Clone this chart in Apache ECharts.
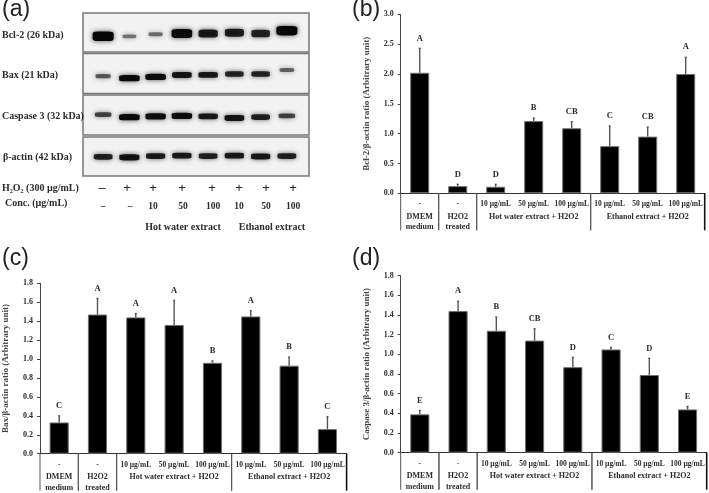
<!DOCTYPE html>
<html><head><meta charset="utf-8">
<script src="https://cdn.jsdelivr.net/npm/echarts@6/dist/echarts.min.js"></script>
<style>html,body{margin:0;background:#fff}#c{width:709px;height:493px;filter:blur(.55px)}</style>
</head><body><div id="c"></div>
<script>
// ---- bar chart data ----
const doseLabels = ['-','-','10 µg/mL','50 µg/mL','100 µg/mL','10 µg/mL','50 µg/mL','100 µg/mL'];
const groupNames = ['DMEM\nmedium','H2O2\ntreated','Hot water extract + H2O2','Ethanol extract + H2O2'];
const groupSpans = [[0,0],[1,1],[2,4],[5,7]];

const bcl2Values = [2.02,0.12,0.11,1.21,1.09,0.79,0.95,2.00];
const bcl2Upper  = [2.43,0.15,0.15,1.26,1.20,1.13,1.11,2.28];
const bcl2Letters = ['A','D','D','B','CB','C','CB','A'];

const baxValues = [0.33,1.47,1.44,1.36,0.96,1.45,0.93,0.26];
const baxUpper  = [0.40,1.64,1.48,1.62,0.98,1.51,1.02,0.39];
const baxLetters = ['C','A','A','A','B','A','B','C'];

const caspValues = [0.39,1.44,1.24,1.14,0.87,1.05,0.79,0.44];
const caspUpper  = [0.43,1.54,1.38,1.26,0.97,1.07,0.96,0.47];
const caspLetters = ['E','A','B','CB','D','C','D','E'];

// ---- western blot data: band intensity and migration drift per lane ----
const laneNames = ['L1','L2','L3','L4','L5','L6','L7','L8'];
const blotRows = ['Bcl-2 (26 kDa)','Bax (21 kDa)','Caspase 3 (32 kDa)','β-actin (42 kDa)'];
const bcl2Band = [1,0.18,0.22,0.95,0.8,0.78,0.72,1];
const baxBand  = [0.35,0.95,0.95,0.85,0.82,0.72,0.72,0.28];
const caspBand = [0.5,0.95,0.92,0.92,0.82,0.85,0.75,0.5];
const actinBand= [0.75,0.9,0.8,0.8,0.75,0.8,0.8,0.75];
const bcl2Drift = [0.07,0.07,0.02,0,0,-0.02,0,-0.07];
const baxDrift  = [0.04,0.09,0.06,0.01,0.01,-0.01,-0.01,-0.11];
const caspDrift = [-0.02,0.04,0.02,0.01,0.02,0.06,0.04,0.01];
const actinDrift= [0.01,0.02,-0.01,-0.02,-0.01,-0.02,0,-0.01];

const serif = '"Liberation Serif","DejaVu Serif",serif';
const sans = '"Liberation Sans",Arial,sans-serif';
const ink = '#2b2b2b';

const grids = [], xAxes = [], yAxes = [], series = [];

// blot grid
grids.push({left:90, top:13, width:210, height:164});
xAxes.push({gridIndex:0, type:'category', data:laneNames, show:false});
yAxes.push({gridIndex:0, type:'value', min:0, max:4, inverse:true, show:false});
[bcl2Band,baxBand,caspBand,actinBand].forEach((band,r)=>{
  const drift=[bcl2Drift,baxDrift,caspDrift,actinDrift][r];
  series.push({
    type:'scatter', name:blotRows[r], xAxisIndex:0, yAxisIndex:0, silent:true, z:3,
    symbol:'roundRect',
    symbolSize:(v,p)=>{const s=band[p.dataIndex];return [12+9*s,(r===0?2.5+7*s:3+3.5*s)];},
    data:band.map((s,i)=>({value:[i,r+0.5+drift[i]],itemStyle:{opacity:0.35+0.65*s}})),
    itemStyle:{color:'#060606',shadowBlur:5,shadowColor:'rgba(0,0,0,.7)'}
  });
});

function barPanel(idx, g, yMax, step, yName, values, upper, letters, nameGap){
  grids.push(g);
  xAxes.push({gridIndex:idx, type:'category', data:doseLabels,
    axisLine:{lineStyle:{color:'#333',width:1}}, axisTick:{show:false},
    axisLabel:{interval:0, margin:7, color:ink, fontFamily:serif, fontWeight:'bold', fontSize:7.5}});
  yAxes.push({gridIndex:idx, type:'value', min:0, max:yMax, interval:step,
    name:yName, nameLocation:'middle', nameGap:nameGap, nameRotate:90,
    nameTextStyle:{color:'#444',fontFamily:serif,fontWeight:'bold',fontSize:9},
    axisLine:{show:true,lineStyle:{color:'#444',width:1}},
    axisTick:{show:true,length:3,lineStyle:{color:'#444'}}, splitLine:{show:false},
    axisLabel:{margin:7,color:ink,fontFamily:serif,fontWeight:'bold',fontSize:8,formatter:v=>v.toFixed(1)}});
  series.push({type:'bar', xAxisIndex:idx, yAxisIndex:idx, data:values, barWidth:'50%', silent:true,
    itemStyle:{color:'#000',borderColor:'#707070',borderWidth:1}, z:3});
  series.push({type:'custom', xAxisIndex:idx, yAxisIndex:idx, silent:true, z:4,
    data:upper.map((u,i)=>[i,u]),
    encode:{x:0,y:1},
    renderItem:(p,api)=>{
      const i=p.dataIndex, top=api.coord([i,upper[i]]), base=api.coord([i,values[i]]);
      return {type:'group',children:[
        {type:'line',shape:{x1:top[0],y1:top[1],x2:base[0],y2:base[1]},style:{stroke:'#555',lineWidth:1.4}},
        {type:'line',shape:{x1:top[0]-1,y1:top[1],x2:top[0]+1,y2:top[1]},style:{stroke:'#555',lineWidth:1.4}},
        {type:'text',style:{x:top[0],y:top[1]-10,text:letters[i],fill:ink,font:'bold 8.5px '+serif,textAlign:'center',textVerticalAlign:'middle'}}
      ]};
    }});
  series.push({type:'custom', xAxisIndex:idx, yAxisIndex:idx, silent:true, z:2,
    data:groupSpans, encode:{x:[0,1]},
    renderItem:(p,api)=>{
      const [s,e]=groupSpans[p.dataIndex], bw=api.size([1,0])[0];
      const x0=api.coord([s,0])[0]-bw/2, x1=api.coord([e,0])[0]+bw/2, y=api.coord([s,0])[1];
      const last=p.dataIndex===groupSpans.length-1;
      return {type:'group',children:[
        {type:'line',shape:{x1:x0,y1:y,x2:x0,y2:y+37},style:{stroke:'#555',lineWidth:1}},
        {type:'line',shape:{x1:x1,y1:y,x2:x1,y2:y+37},style:{stroke:last?'#111':'#555',lineWidth:last?1.6:1}},
        {type:'text',style:{x:(x0+x1)/2,y:y+18,text:groupNames[p.dataIndex],fill:ink,font:'bold 8px '+serif,lineHeight:10.5,textAlign:'center',textVerticalAlign:'top'}}
      ]};
    }});
}
barPanel(1,{left:400.7,top:14.3,width:304,height:179},3,0.5,'Bcl-2/β-actin ratio (Arbitrary unit)',bcl2Values,bcl2Upper,bcl2Letters,30);
barPanel(2,{left:36,top:283.3,width:310.6,height:170.4},1.8,0.2,'Bax/β-actin ratio (Arbitrary unit)',baxValues,baxUpper,baxLetters,30);
barPanel(3,{left:400.7,top:275.7,width:306,height:177},1.8,0.2,'Caspase 3/β-actin ratio (Arbitrary unit)',caspValues,caspUpper,caspLetters,30);

// ---- blot annotations ----
const blotText=(x,y,t,size,align)=>({type:'text',z:5,style:{x,y,text:t,fill:ink,font:'bold '+(size||10)+'px '+serif,textAlign:align||'left',textVerticalAlign:'middle'}});
const panelRect=(y,h)=>({type:'rect',z:0,shape:{x:83,y,width:226,height:h},style:{fill:'#f2f2f2',stroke:'#777',lineWidth:1.5}});
const elements=[
  panelRect(13,39),panelRect(53.5,40),panelRect(95,40),panelRect(137,39),
  blotText(2,35,blotRows[0]),blotText(2,75,blotRows[1]),blotText(2,116,blotRows[2]),blotText(3,157,blotRows[3]),
  blotText(2,188,'H₂O₂ (300 µg/mL)'),
  blotText(5,203,'Conc. (µg/mL)'),
  blotText(183,227,'Hot water extract',10,'center'),blotText(272,227,'Ethanol extract',10,'center')
];
[[102,'–'],[127,'+'],[153,'+'],[182,'+'],[212,'+'],[239,'+'],[266,'+'],[293,'+']].forEach(([x,t])=>
  elements.push({type:'text',z:5,style:{x,y:188,text:t,fill:'#222',font:'13px '+sans,textAlign:'center',textVerticalAlign:'middle'}}));
[[103,'–'],[130,'–'],[153,'10'],[183,'50'],[213,'100'],[239,'10'],[266,'50'],[293,'100']].forEach(([x,t])=>
  elements.push(blotText(x,207,t,9.5,'center')));

const titles=[['(a)',2,-2],['(b)',352,-2],['(c)',2,247],['(d)',352,247]].map(([t,l,tp])=>({
  text:t,left:l,top:tp,padding:0,textStyle:{color:'#222',fontFamily:sans,fontWeight:'normal',fontSize:23}}));

const chart=echarts.init(document.getElementById('c'));
chart.setOption({animation:false,backgroundColor:'#fff',title:titles,grid:grids,xAxis:xAxes,yAxis:yAxes,series,graphic:{elements}});
</script></body></html>
